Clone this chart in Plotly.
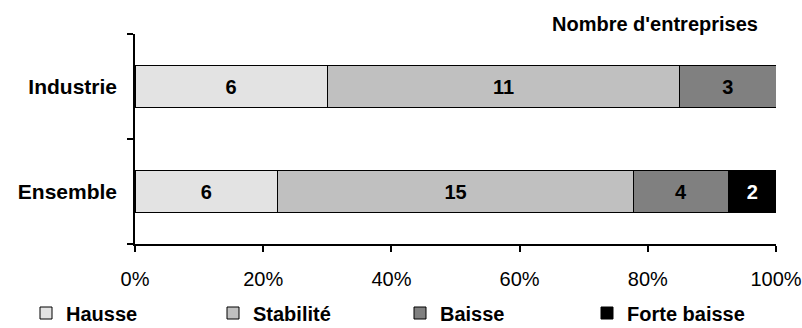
import plotly.graph_objects as go

categories = ["Ensemble", "Industrie"]
series_names = ["Hausse", "Stabilité", "Baisse", "Forte baisse"]
hausse = [6, 6]
stabilite = [15, 11]
baisse = [4, 3]
forte_baisse = [2, 0]
colors = ["#e3e3e3", "#c0c0c0", "#808080", "#000000"]
text_colors = ["#000000", "#000000", "#000000", "#ffffff"]
tick_vals = [0, 20, 40, 60, 80, 100]
tick_text = ["0%", "20%", "40%", "60%", "80%", "100%"]

FONT = "Liberation Sans, Arial, sans-serif"
fig = go.Figure()
for name, vals, col, tc in zip(series_names, [hausse, stabilite, baisse, forte_baisse], colors, text_colors):
    fig.add_trace(go.Bar(
        y=categories, x=vals, name=name, orientation="h",
        marker=dict(color=col, line=dict(color="#000000", width=1)),
        text=[str(v) if v else "" for v in vals],
        textposition="inside", insidetextanchor="middle",
        textfont=dict(family=FONT, size=20, color=tc, weight="bold"),
        constraintext="none",
    ))

fig.update_layout(
    barmode="stack", barnorm="percent", bargap=0.6,
    width=802, height=328,
    margin=dict(l=135, r=26, t=34, b=84, autoexpand=False),
    plot_bgcolor="white", paper_bgcolor="white",
    font=dict(family=FONT, size=20, color="#000000"),
    showlegend=True,
    legend=dict(orientation="h", x=(26 - 135) / 641, xanchor="left", y=(244 - 313) / 210, yanchor="middle",
                font=dict(family=FONT, size=20, weight="bold"),
                entrywidth=142, entrywidthmode="pixels", traceorder="normal",
                itemwidth=30, bgcolor="rgba(0,0,0,0)"),
    annotations=[dict(text="<b>Nombre d'entreprises</b>", xref="paper", yref="paper",
                      x=(760 - 135) / 641, y=(244 - 24) / 210, xanchor="right", yanchor="middle",
                      showarrow=False, font=dict(family=FONT, size=20))],
)
fig.update_xaxes(range=[0, 100], tickvals=tick_vals, ticktext=tick_text, automargin=False,
                 showgrid=False, zeroline=False, showline=True, linecolor="#000000", linewidth=1.5,
                 ticks="outside", ticklen=6, tickcolor="#000000", tickwidth=1.5,
                 ticklabelstandoff=10, tickfont=dict(size=20))
fig.update_yaxes(range=[-0.5, 1.5], showgrid=False, showline=True, linecolor="#000000", linewidth=1.5,
                 automargin=False,
                 ticks="outside", ticklen=6, tickcolor="#000000", tickwidth=1.5, tickson="boundaries",
                 ticklabelstandoff=12, tickfont=dict(size=21, weight="bold"))

fig.write_html("out.html")
